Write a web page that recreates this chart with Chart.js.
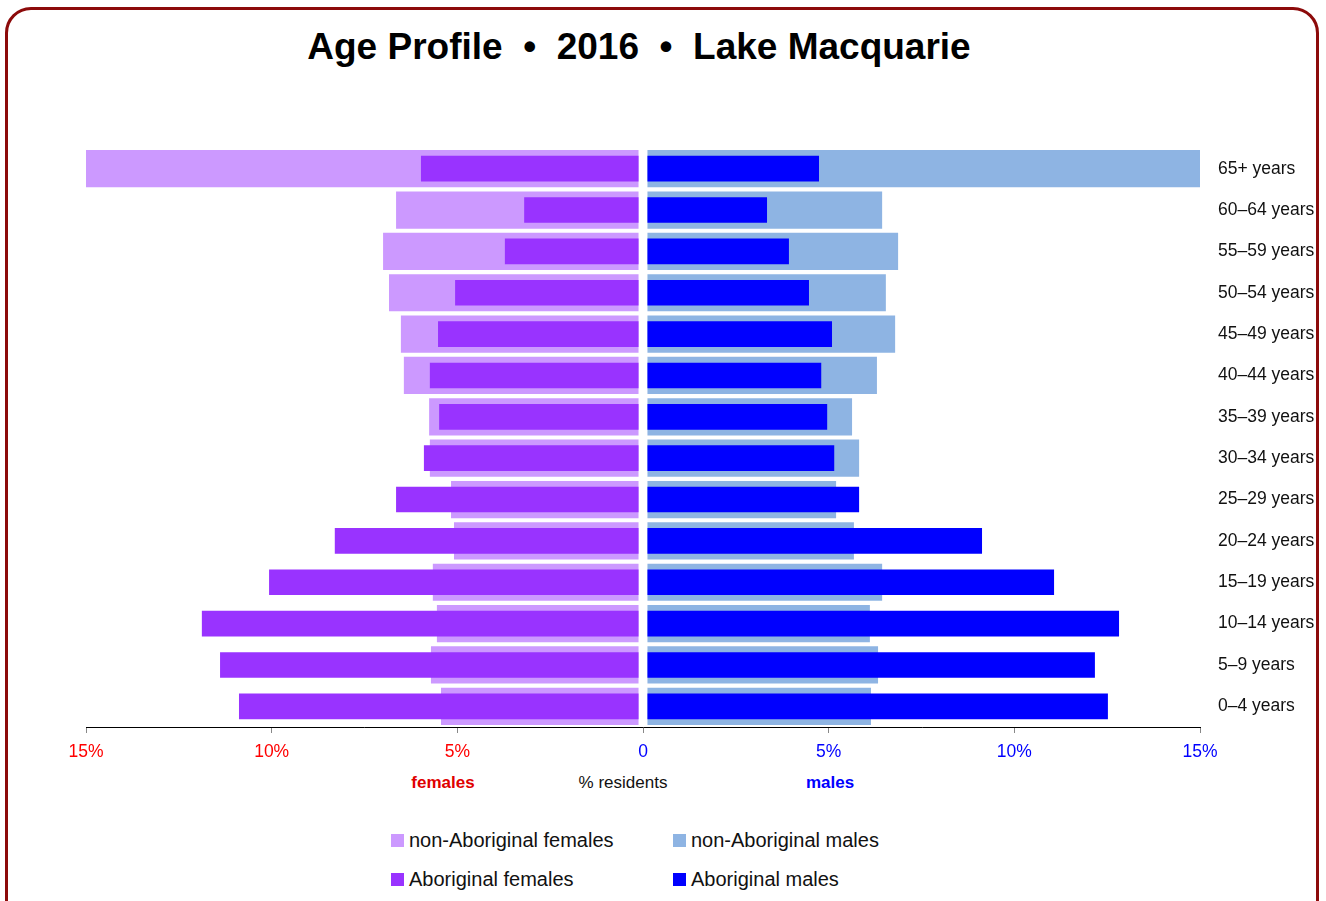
<!DOCTYPE html>
<html lang="en">
<head>
<meta charset="UTF-8">
<title>Age Profile • 2016 • Lake Macquarie</title>
<script src="https://cdn.jsdelivr.net/npm/chart.js"></script>
<style>
  body { margin: 0; width: 1326px; height: 901px; overflow: hidden; background: #fff;
         font-family: "Liberation Sans", Arial, sans-serif; }
  .moldura { position: absolute; left: 5px; top: 7px; width: 1308px; height: 940px;
             border: 3px solid #8c0a0a; border-radius: 26px; }
  .titulo { position: absolute; left: 0; width: 1278px; top: 26px; text-align: center;
            font-size: 37px; font-weight: bold; white-space: pre; color: #000; }
  .grafico { position: absolute; left: 0; top: 0; width: 1326px; height: 767px; }
  .rotulo { position: absolute; top: 773px; font-size: 17px; transform: translateX(-50%); }
  .legenda { position: absolute; font-size: 20px; color: #111; display: flex; align-items: center; }
  .legenda span { display: inline-block; width: 13px; height: 13px; margin-right: 5px; }
</style>
</head>
<body>
<div class="moldura"></div>
<div class="titulo">Age Profile  •  2016  •  Lake Macquarie</div>

<div class="grafico"><canvas id="piramide"></canvas></div>

<div class="rotulo" style="left:443px;color:#e00000;font-weight:bold">females</div>
<div class="rotulo" style="left:623px;color:#111">% residents</div>
<div class="rotulo" style="left:830px;color:#0000ff;font-weight:bold">males</div>

<div class="legenda" style="left:391px;top:829px"><span style="background:#cc99ff"></span>non-Aboriginal females</div>
<div class="legenda" style="left:391px;top:868px"><span style="background:#9933ff"></span>Aboriginal females</div>
<div class="legenda" style="left:673px;top:829px"><span style="background:#8eb4e3"></span>non-Aboriginal males</div>
<div class="legenda" style="left:673px;top:868px"><span style="background:#0000ff"></span>Aboriginal males</div>

<script>
// faixas etarias, de baixo para cima
const faixas = ['0–4 years', '5–9 years', '10–14 years', '15–19 years', '20–24 years', '25–29 years',
  '30–34 years', '35–39 years', '40–44 years', '45–49 years', '50–54 years', '55–59 years',
  '60–64 years', '65+ years'];

// % de residentes
const mulheresNaoAborigenes = [5.44, 5.71, 5.55, 5.66, 5.09, 5.17, 5.74, 5.76, 6.44, 6.52, 6.84, 7.00, 6.65, 15.0];
const mulheresAborigenes    = [10.88, 11.39, 11.88, 10.07, 8.30, 6.65, 5.90, 5.49, 5.74, 5.52, 5.06, 3.72, 3.20, 5.98];
const homensNaoAborigenes   = [6.14, 6.33, 6.11, 6.44, 5.68, 5.20, 5.82, 5.63, 6.30, 6.79, 6.54, 6.87, 6.44, 15.0];
const homensAborigenes      = [12.52, 12.17, 12.82, 11.07, 9.13, 5.82, 5.15, 4.96, 4.80, 5.09, 4.47, 3.93, 3.34, 4.74];

const ticksX = [-15, -10, -5, 0, 5, 10, 15];

const fonte = '"Liberation Sans", Arial, sans-serif';
const ctx = document.getElementById('piramide').getContext('2d');

new Chart(ctx, {
  type: 'bar',
  data: {
    labels: faixas,
    datasets: [
      { label: 'Aboriginal females', data: mulheresAborigenes.map(v => -v), base: -0.12,
        backgroundColor: '#9933ff', barPercentage: 0.62, categoryPercentage: 1, grouped: false, order: 1 },
      { label: 'Aboriginal males', data: homensAborigenes, base: 0.12,
        backgroundColor: '#0000ff', barPercentage: 0.62, categoryPercentage: 1, grouped: false, order: 1 },
      { label: 'non-Aboriginal females', data: mulheresNaoAborigenes.map(v => -v), base: -0.12,
        backgroundColor: '#cc99ff', barPercentage: 0.9, categoryPercentage: 1, grouped: false, order: 2 },
      { label: 'non-Aboriginal males', data: homensNaoAborigenes, base: 0.12,
        backgroundColor: '#8eb4e3', barPercentage: 0.9, categoryPercentage: 1, grouped: false, order: 2 }
    ]
  },
  options: {
    indexAxis: 'y',
    responsive: true,
    maintainAspectRatio: false,
    animation: false,
    layout: { padding: { left: 86, top: 148, right: 0, bottom: 0 } },
    plugins: {
      legend: { display: false },
      title: { display: false },
      tooltip: { enabled: true }
    },
    scales: {
      x: {
        type: 'linear',
        min: -15,
        max: 15,
        afterBuildTicks: s => { s.ticks = ticksX.map(v => ({ value: v })); },
        afterFit: s => { s.height = 40; },
        border: { display: true, color: '#000', width: 1 },
        grid: { drawOnChartArea: false, drawTicks: true, tickLength: 6, color: '#888' },
        ticks: {
          padding: 9,
          maxRotation: 0,
          font: { family: fonte, size: 17.5 },
          color: c => (c.tick && c.tick.value < 0) ? '#ff0000' : '#0000ff',
          callback: v => v === 0 ? '0' : Math.abs(v) + '%'
        }
      },
      y: {
        position: 'right',
        reverse: true,
        afterFit: s => { s.width = 126; },
        border: { display: false },
        grid: { display: false, drawTicks: false },
        ticks: {
          padding: 18,
          crossAlign: 'near',
          color: '#111',
          font: { family: fonte, size: 17.5 }
        }
      }
    }
  }
});
</script>
</body>
</html>
